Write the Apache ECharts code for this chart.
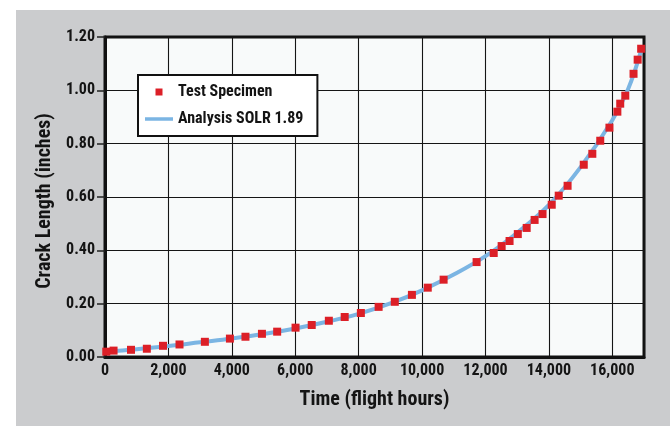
<!DOCTYPE html>
<html><head><meta charset="utf-8">
<script src="https://cdn.jsdelivr.net/npm/echarts/dist/echarts.min.js"></script>
<style>
html,body{margin:0;padding:0;background:#fff;}
#bg{position:absolute;left:16px;top:10px;width:654px;height:416px;background:#cbccce;}
#chart{position:absolute;left:0;top:0;width:670px;height:426px;}
</style></head><body>
<div id="bg"></div><div id="chart"></div>
<script>
// Test specimen measurements (flight hours, crack length in inches)
const specimenHours = [40, 270, 820, 1320, 1830, 2350, 3150, 3940, 4430, 4950, 5430, 6010, 6520, 7060, 7560, 8070, 8630, 9140, 9680, 10180, 10680, 11720, 12260, 12510, 12760, 13020, 13300, 13550, 13800, 14090, 14310, 14590, 15100, 15370, 15620, 15910, 16160, 16250, 16410, 16670, 16800, 16910];
const specimenCrack = [0.020, 0.024, 0.027, 0.031, 0.042, 0.047, 0.057, 0.069, 0.076, 0.087, 0.095, 0.110, 0.120, 0.136, 0.150, 0.165, 0.188, 0.207, 0.233, 0.260, 0.290, 0.356, 0.390, 0.416, 0.435, 0.461, 0.484, 0.514, 0.536, 0.571, 0.605, 0.642, 0.721, 0.762, 0.811, 0.860, 0.920, 0.950, 0.980, 1.062, 1.115, 1.156];
// Analysis SOLR 1.89 curve
const analysisHours = [0, 1000, 2000, 3000, 4000, 5000, 6000, 7000, 8000, 9000, 10000, 11000, 12000, 13000, 14000, 15000, 16000, 16500, 16900];
const analysisCrack = [0.020, 0.029, 0.041, 0.055, 0.069, 0.086, 0.107, 0.132, 0.162, 0.201, 0.250, 0.309, 0.378, 0.466, 0.570, 0.712, 0.888, 1.005, 1.145];
const yTickLabels = ['0.00', '0.20', '0.40', '0.60', '0.80', '1.00', '1.20'];
const xTickLabels = ['0', '2,000', '4,000', '6,000', '8,000', '10,000', '12,000', '14,000', '16,000'];

const FONT = '"Roboto Condensed", "Liberation Sans", sans-serif';
const TXT = '#141414';

const chart = echarts.init(document.getElementById('chart'), null, {renderer: 'canvas'});
chart.setOption({
  backgroundColor: 'transparent',
  animation: false,
  grid: {
    left: 105, top: 37, right: 26, bottom: 69,
    show: true, backgroundColor: '#f8fafa', borderColor: '#111', borderWidth: 3,
    containLabel: false, outerBoundsMode: 'none'
  },
  legend: {
    left: 138, top: 75, orient: 'vertical',
    backgroundColor: '#fff', borderColor: '#111', borderWidth: 2,
    padding: [9, 14, 9, 7], itemGap: 11, itemWidth: 28, itemHeight: 7,
    symbolKeepAspect: true,
    textStyle: {fontFamily: FONT, fontWeight: 'bold', fontSize: 16, color: TXT},
    data: [
      {name: 'Test Specimen', icon: 'path://M0,0H10V10H0Z'},
      {name: 'Analysis SOLR 1.89', icon: 'path://M0,0H28V3.5H0Z'}
    ]
  },
  xAxis: {
    type: 'value', min: 0, max: 17000, interval: 2000,
    name: 'Time (flight hours)', nameLocation: 'middle', nameGap: 33,
    nameTextStyle: {fontFamily: FONT, fontWeight: 'bold', fontSize: 20, color: TXT},
    axisLine: {show: true, lineStyle: {color: '#111', width: 3}},
    axisTick: {show: false},
    axisLabel: {
      margin: 6, fontFamily: FONT, fontWeight: 'bold', fontSize: 16, color: TXT,
      showMaxLabel: false,
      formatter: v => (v % 2000 === 0 ? xTickLabels[v / 2000] : '')
    },
    splitLine: {show: true, lineStyle: {color: '#151515', width: 1.1}}
  },
  yAxis: {
    type: 'value', min: 0, max: 1.2, interval: 0.2,
    name: 'Crack Length (inches)', nameLocation: 'middle', nameGap: 50,
    nameTextStyle: {fontFamily: FONT, fontWeight: 'bold', fontSize: 20, color: TXT, padding: [0, 8, 0, 0]},
    axisLine: {show: true, lineStyle: {color: '#111', width: 3}},
    axisTick: {show: true, inside: false, length: 8, lineStyle: {color: '#222', width: 1.5}},
    axisLabel: {
      margin: 10, fontFamily: FONT, fontWeight: 'bold', fontSize: 16, color: TXT,
      formatter: v => yTickLabels[Math.round(v / 0.2)]
    },
    splitLine: {show: true, lineStyle: {color: '#151515', width: 1.1}}
  },
  series: [
    {
      name: 'Analysis SOLR 1.89', type: 'line', smooth: 0.4, symbol: 'none',
      color: '#7bb5e3', itemStyle: {color: '#7bb5e3'},
      lineStyle: {color: '#7bb5e3', width: 4}, z: 3,
      data: analysisHours.map((h, i) => [h, analysisCrack[i]])
    },
    {
      name: 'Test Specimen', type: 'scatter', symbol: 'rect', symbolSize: 8,
      color: '#dc1f27', itemStyle: {color: '#dc1f27', opacity: 1}, z: 4,
      data: specimenHours.map((h, i) => [h, specimenCrack[i]])
    }
  ]
});
</script>
</body></html>
